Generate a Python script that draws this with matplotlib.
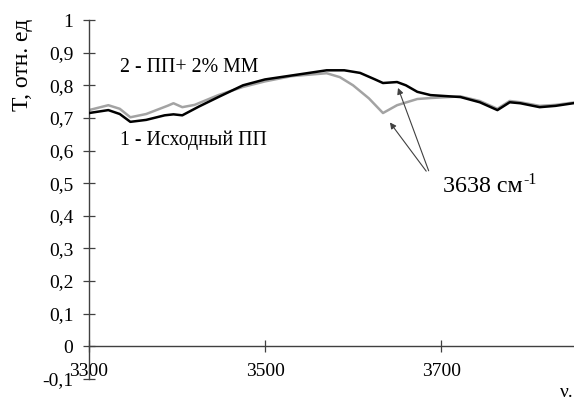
import matplotlib.pyplot as plt

plt.rcParams['font.family'] = ['Liberation Serif', 'DejaVu Serif']

# Спектры пропускания (ν, T)
nu_black = [3300, 3322, 3335, 3347, 3365, 3386, 3396, 3406, 3425, 3447, 3475, 3500,
            3530, 3570, 3590, 3608, 3625, 3634, 3650, 3660, 3673, 3688, 3722, 3744,
            3764, 3778, 3790, 3812, 3830, 3850]
t_black = [0.715, 0.724, 0.712, 0.688, 0.694, 0.708, 0.711, 0.708, 0.735, 0.764, 0.800, 0.818,
           0.830, 0.846, 0.846, 0.838, 0.818, 0.807, 0.810, 0.800, 0.780, 0.770, 0.764, 0.748,
           0.724, 0.748, 0.745, 0.733, 0.737, 0.745]

nu_gray = [3300, 3322, 3335, 3347, 3365, 3390, 3396, 3406, 3420, 3447, 3475, 3500,
           3530, 3570, 3585, 3600, 3618, 3634, 3650, 3673, 3688, 3722, 3744, 3764,
           3778, 3790, 3812, 3830, 3850]
t_gray = [0.724, 0.739, 0.728, 0.702, 0.712, 0.738, 0.745, 0.733, 0.740, 0.770, 0.795, 0.812,
          0.828, 0.837, 0.825, 0.800, 0.760, 0.715, 0.739, 0.758, 0.761, 0.766, 0.752, 0.728,
          0.752, 0.748, 0.737, 0.740, 0.747]

yticks = [-0.1, 0, 0.1, 0.2, 0.3, 0.4, 0.5, 0.6, 0.7, 0.8, 0.9, 1]
ytick_labels = ['-0,1', '0', '0,1', '0,2', '0,3', '0,4', '0,5', '0,6', '0,7', '0,8', '0,9', '1']
xticks = [3300, 3500, 3700]

fig = plt.figure(figsize=(5.74, 4.01), dpi=100)
ax = fig.add_axes([0.155, 0.055, 0.845, 0.895])

ax.plot(nu_gray, t_gray, color='#a3a3a3', lw=1.8, zorder=2)
ax.plot(nu_black, t_black, color='black', lw=1.8, zorder=3)

ax.set_xlim(3300, 3851)
ax.set_ylim(-0.1, 1)

ax.spines['top'].set_visible(False)
ax.spines['right'].set_visible(False)
ax.spines['bottom'].set_position(('data', 0))
for s in ['left', 'bottom']:
    ax.spines[s].set_color('#404040')
    ax.spines[s].set_linewidth(1.0)

ax.set_yticks(yticks)
ax.set_yticklabels(ytick_labels)
ax.set_xticks(xticks)
ax.tick_params(axis='both', direction='inout', length=8.5, width=0.9, color='#404040',
               labelsize=14)
ax.tick_params(axis='y', pad=7)
ax.tick_params(axis='x', pad=8)

ax.set_ylabel('Т, отн. ед', fontsize=17)
ax.yaxis.set_label_coords(-0.116, 0.875)

ax.text(3335, 0.856, '2 - ПП+ 2% ММ', fontsize=14.3, va='center')
ax.text(3335, 0.632, '1 - Исходный ПП', fontsize=14.3, va='center')

# стрелки к полосе 3638 см-1
ax.annotate('', xy=(3650, 0.80), xytext=(3687, 0.53),
            arrowprops=dict(arrowstyle='-|>', color='#404040', lw=0.8, mutation_scale=9))
ax.annotate('', xy=(3640, 0.693), xytext=(3685, 0.53),
            arrowprops=dict(arrowstyle='-|>', color='#404040', lw=0.8, mutation_scale=9))
ax.text(3702, 0.49, '3638 см', fontsize=17.3, va='center')
ax.text(3794, 0.535, '-1', fontsize=11.5, va='top')

fig.text(0.975, 0.02, 'ν.', fontsize=14, va='center')

fig.savefig('out.png', dpi=100)
